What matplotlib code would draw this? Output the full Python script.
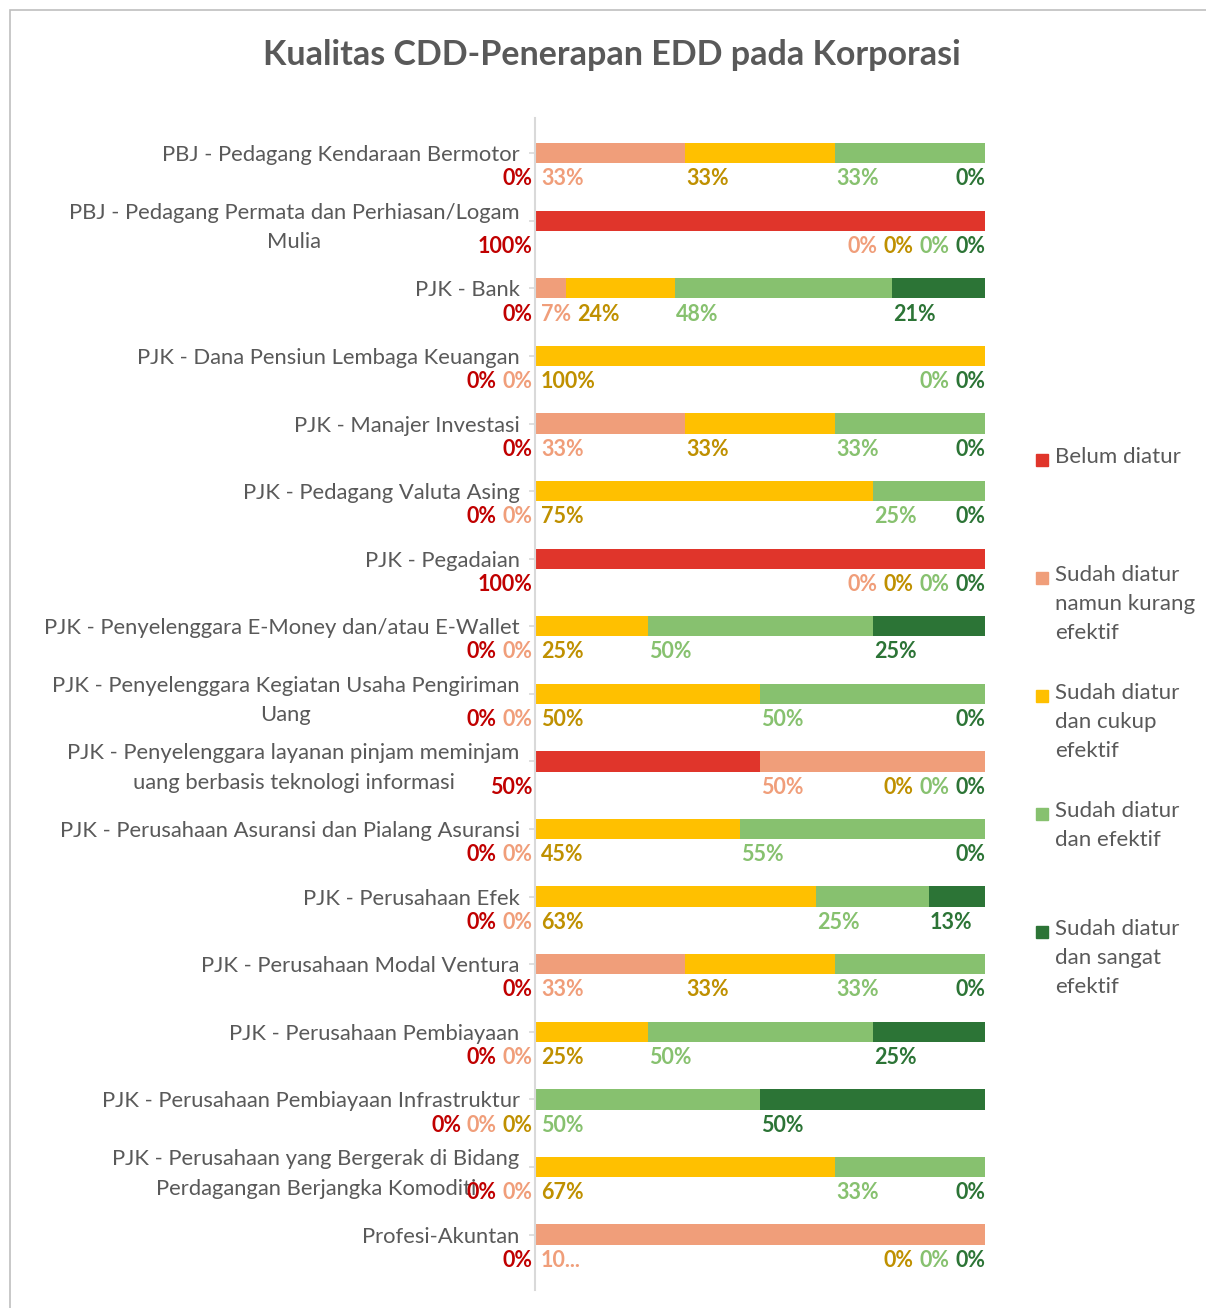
import numpy as np
import matplotlib.pyplot as plt
from matplotlib.patches import Rectangle

plt.rcParams['font.family'] = ['Lato', 'DejaVu Sans']

# data (percent of respondents per category)
categories = [
    "PBJ - Pedagang Kendaraan Bermotor",
    "PBJ - Pedagang Permata dan Perhiasan/Logam\nMulia",
    "PJK - Bank",
    "PJK - Dana Pensiun Lembaga Keuangan",
    "PJK - Manajer Investasi",
    "PJK - Pedagang Valuta Asing",
    "PJK - Pegadaian",
    "PJK - Penyelenggara E-Money dan/atau E-Wallet",
    "PJK - Penyelenggara Kegiatan Usaha Pengiriman\nUang",
    "PJK - Penyelenggara layanan pinjam meminjam\nuang berbasis teknologi informasi",
    "PJK - Perusahaan Asuransi dan Pialang Asuransi",
    "PJK - Perusahaan Efek",
    "PJK - Perusahaan Modal Ventura",
    "PJK - Perusahaan Pembiayaan",
    "PJK - Perusahaan Pembiayaan Infrastruktur",
    "PJK - Perusahaan yang Bergerak di Bidang\nPerdagangan Berjangka Komoditi",
    "Profesi-Akuntan",
]
belum   = [0, 100, 0,    0,   0,     0,  100, 0,  0,  50, 0,     0,    0,     0,  0,  0,     0]
kurang  = [33.33, 0, 6.9, 0,  33.33, 0,  0,   0,  0,  50, 0,     0,    33.33, 0,  0,  0,     100]
cukup   = [33.33, 0, 24.1, 100, 33.33, 75, 0, 25, 50, 0,  45.45, 62.5, 33.33, 25, 0,  66.67, 0]
efektif = [33.33, 0, 48.3, 0, 33.33, 25, 0,   50, 50, 0,  54.55, 25,   33.33, 50, 50, 33.33, 0]
sangat  = [0,     0, 20.7, 0, 0,     0,  0,   25, 0,  0,  0,     12.5, 0,     25, 50, 0,     0]

series_names = ["Belum diatur", "Sudah diatur\nnamun kurang\nefektif",
                "Sudah diatur\ndan cukup\nefektif", "Sudah diatur\ndan efektif",
                "Sudah diatur\ndan sangat\nefektif"]
bar_colors = ['#E0352B', '#F09E7A', '#FFC000', '#87C16F', '#2C7436']
label_colors = ['#C00000', '#F09E7A', '#BF9000', '#87C16F', '#2C7436']
# Excel cut this one label short
truncated = {(16, 1): "10..."}

series = [belum, kurang, cukup, efektif, sangat]
n = len(categories)
y = np.arange(n)

fig = plt.figure(figsize=(12.06, 13.08), dpi=100)
ax = fig.add_axes([535 / 1206, 1 - 1290 / 1308, 450 / 1206, (1290 - 118) / 1308])

left = np.zeros(n)
for vals, col in zip(series, bar_colors):
    ax.barh(y, vals, left=left, height=0.3, color=col, edgecolor='none')
    left += np.array(vals)

ax.set_xlim(0, 100)
ax.set_ylim(n - 1 + 0.82, -0.52)
ax.set_yticks(y)
ax.set_yticklabels(categories, fontsize=15.8, color='#595959',
                   multialignment='center', linespacing=1.6)
ax.tick_params(axis='y', length=4, width=1.2, color='#D9D9D9', pad=7)
ax.xaxis.set_visible(False)
for s in ['top', 'right', 'bottom']:
    ax.spines[s].set_visible(False)
ax.spines['left'].set_color('#D9D9D9')
ax.spines['left'].set_linewidth(1.5)

# value labels below each bar, nudged apart where they collide
fig.canvas.draw()
rend = fig.canvas.get_renderer()
px_per_pct = ax.get_window_extent(rend).width / 100.0
gap = 1.3
for i in range(n):
    vals = [s[i] for s in series]
    starts = np.cumsum(vals) - np.array(vals)
    texts, widths = [], []
    for j, v in enumerate(vals):
        txt = truncated.get((i, j), "%d%%" % int(v + 0.5))
        t = ax.text(0, i + 0.38, txt, fontsize=15.5, fontweight='bold',
                    color=label_colors[j], ha='left', va='center', clip_on=False)
        texts.append(t)
        widths.append(t.get_window_extent(rend).width / px_per_pct)
    lead = [0]
    j = 1
    while j < 5 and vals[j] == 0 and starts[j] < 0.01:
        lead.append(j)
        j += 1
    trail = [k for k in range(1, 5) if vals[k] == 0 and starts[k] > 99.9 and k not in lead]
    pos = {}
    right = -0.5
    for k in reversed(lead):
        pos[k] = right - widths[k]
        right = pos[k] - gap
    prev_end = 0.0
    for k in range(5):
        if k in lead or k in trail:
            continue
        x0 = max(starts[k] + 0.3, prev_end + gap)
        pos[k] = x0
        prev_end = x0 + widths[k]
    right = 100.0
    for k in reversed(trail):
        pos[k] = right - widths[k]
        right = pos[k] - gap
    for k in range(5):
        texts[k].set_x(pos[k])

fig.text(0.507, 1 - 55 / 1308, "Kualitas CDD-Penerapan EDD pada Korporasi",
         fontsize=24.5, fontweight='bold', color='#595959', ha='center', va='center')

# legend on the right
for k, name in enumerate(series_names):
    ty = 460 + k * 118
    fig.patches.append(Rectangle((1036 / 1206, 1 - (ty + 6) / 1308), 12 / 1206, 12 / 1308,
                                 transform=fig.transFigure, color=bar_colors[k]))
    fig.text(1055 / 1206, 1 - (ty - 13) / 1308, name, fontsize=16, color='#595959',
             ha='left', va='top', linespacing=1.55)

# chart frame
fig.patches.append(Rectangle((10 / 1206, -0.01), 1.0, 1 - 10 / 1308 + 0.01,
                             transform=fig.transFigure, fill=False,
                             edgecolor='#BFBFBF', linewidth=1.2))

fig.savefig('out.png', dpi=100)
